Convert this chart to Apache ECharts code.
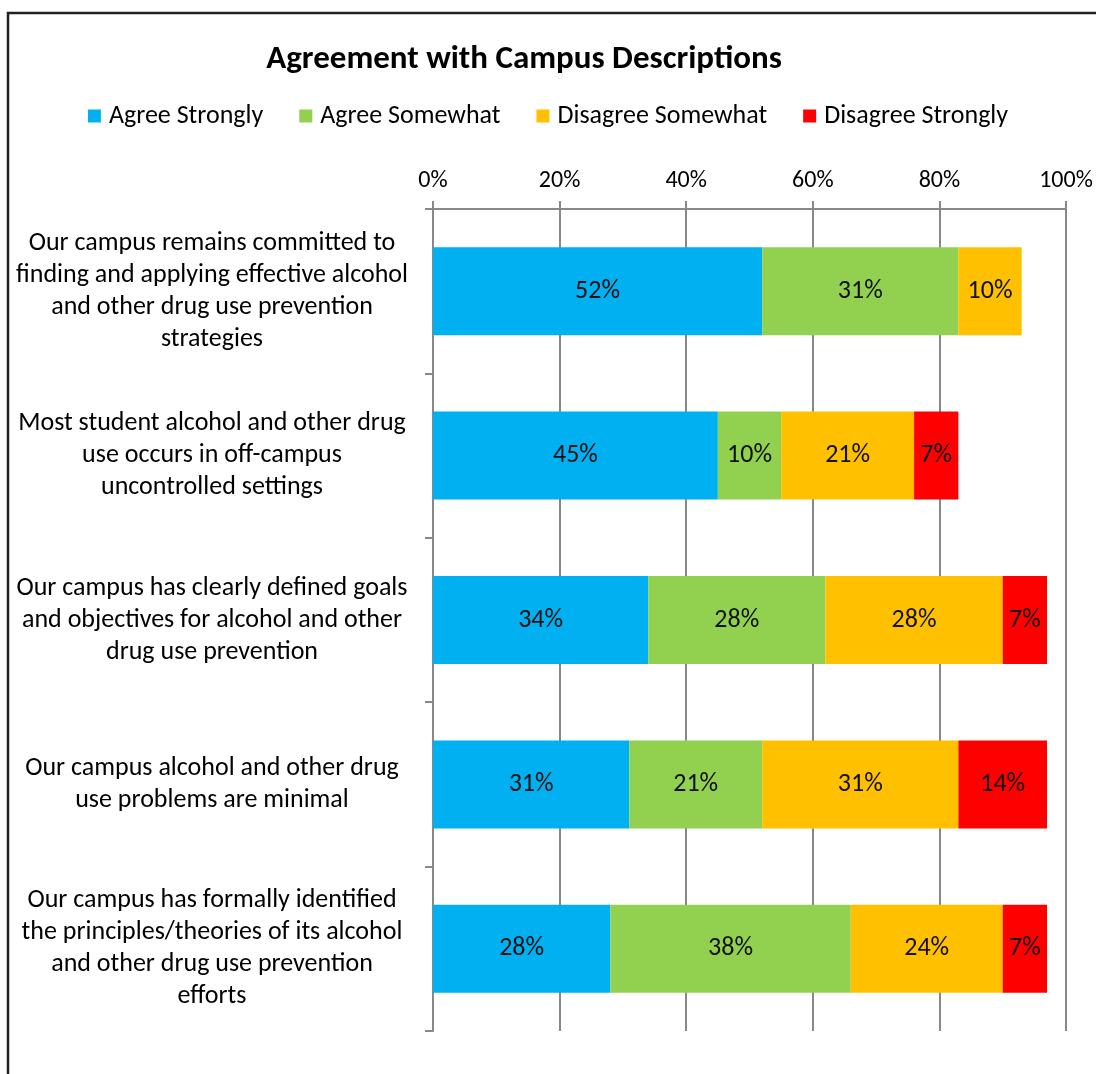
<!DOCTYPE html>
<html>
<head>
<meta charset="utf-8">
<script src="https://cdn.jsdelivr.net/npm/echarts@6/dist/echarts.min.js"></script>
<style>
html,body{margin:0;padding:0;background:#fff;}
#chart{width:1096px;height:1074px;}
</style>
</head>
<body>
<div id="chart"></div>
<script>
const categories = [
  "Our campus remains committed to\nfinding and applying effective alcohol\nand other drug use prevention\nstrategies",
  "Most student alcohol and other drug\nuse occurs in off-campus\nuncontrolled settings",
  "Our campus has clearly defined goals\nand objectives for alcohol and other\ndrug use prevention",
  "Our campus alcohol and other drug\nuse problems are minimal",
  "Our campus has formally identified\nthe principles/theories of its alcohol\nand other drug use prevention\nefforts"
];
const seriesNames = ["Agree Strongly", "Agree Somewhat", "Disagree Somewhat", "Disagree Strongly"];
const agreeStrongly = [52, 45, 34, 31, 28];
const agreeSomewhat = [31, 10, 28, 21, 38];
const disagreeSomewhat = [10, 21, 28, 31, 24];
const disagreeStrongly = [null, 7, 7, 14, 7];
const xTicks = [0, 20, 40, 60, 80, 100];

const colors = ["#00B0F0", "#92D050", "#FFC000", "#FF0000"];
const FONT = "Carlito, Calibri, Lato, sans-serif";
const allData = [agreeStrongly, agreeSomewhat, disagreeSomewhat, disagreeStrongly];

const chart = echarts.init(document.getElementById('chart'), null, {renderer: 'canvas'});
chart.setOption({
  backgroundColor: '#fff',
  animation: false,
  color: colors,
  title: {
    text: 'Agreement with Campus Descriptions',
    left: 519, textAlign: 'center', top: 38,
    textStyle: {fontFamily: FONT, fontSize: 33, fontWeight: 'bold', color: '#000'}
  },
  legend: {
    data: seriesNames,
    left: 'center', top: 98,
    icon: 'rect', itemWidth: 13, itemHeight: 13, itemGap: 36,
    textStyle: {fontFamily: FONT, fontSize: 26, color: '#000', padding: [0, 0, 0, 3]}
  },
  grid: {left: 433, right: 30, top: 209, bottom: 43, containLabel: false},
  xAxis: {
    type: 'value', position: 'top', min: xTicks[0], max: xTicks[xTicks.length - 1], interval: 20,
    axisLine: {show: true, lineStyle: {color: '#888', width: 2}},
    axisTick: {show: true, length: 8, lineStyle: {color: '#888', width: 2}},
    splitLine: {show: true, lineStyle: {color: '#888', width: 2}},
    axisLabel: {formatter: '{value}%', fontFamily: FONT, fontSize: 24, color: '#000', margin: 16}
  },
  yAxis: {
    type: 'category', data: categories, inverse: true,
    axisLine: {show: true, lineStyle: {color: '#888', width: 2}},
    axisTick: {show: true, length: 8, lineStyle: {color: '#888', width: 2}},
    axisLabel: {fontFamily: FONT, fontSize: 26, color: '#000', align: 'center', margin: 221, lineHeight: 32}
  },
  graphic: [{
    type: 'rect', shape: {x: 8, y: 13, width: 1200, height: 1200},
    style: {fill: 'none', stroke: '#222', lineWidth: 2.5}, silent: true, z: 100
  }],
  series: seriesNames.map((name, i) => ({
    name: name, type: 'bar', stack: 'total', data: allData[i],
    barWidth: 88,
    itemStyle: {color: colors[i]},
    label: {show: true, position: 'inside', formatter: '{c}%', fontFamily: FONT, fontSize: 26, color: '#111'}
  }))
});
</script>
</body>
</html>
